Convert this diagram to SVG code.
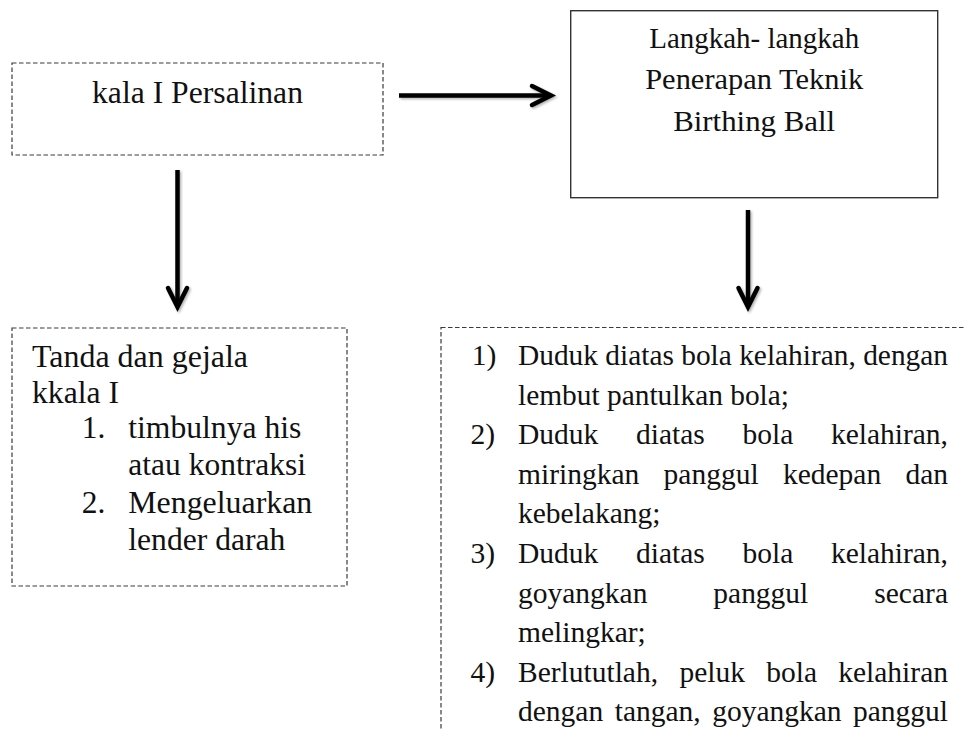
<svg xmlns="http://www.w3.org/2000/svg" width="965" height="731" viewBox="0 0 965 731">
<style>
.t{font-family:"Liberation Serif","Times New Roman",serif;fill:#111}
.l{font-size:31.5px}
.r{font-size:29.5px}
.m{font-size:30px}
.dash{fill:#fff;stroke:#3a3a3a;stroke-width:1.2;stroke-dasharray:4.5 2.5}
.solid{fill:#fff;stroke:#333;stroke-width:1.4}
.conn{stroke:#000;stroke-width:4.5;fill:none}
</style>
<defs>
<filter id="sh" x="-20%" y="-20%" width="140%" height="140%">
<feDropShadow dx="1.5" dy="1.5" stdDeviation="1.2" flood-color="#000" flood-opacity="0.3"/>
</filter>
<marker id="chev" viewBox="0 0 40 30" refX="25" refY="15" markerWidth="40" markerHeight="30" markerUnits="userSpaceOnUse" orient="auto" overflow="visible">
<path d="M6,5.5 L25,15 L6,24.5" fill="none" stroke="#000" stroke-width="4.5" stroke-linecap="round" stroke-linejoin="miter"/>
</marker>
</defs>
<rect width="965" height="731" fill="#fff"/>

<g id="kala1">
<rect class="dash" x="12" y="63" width="371" height="92"/>
<text class="t l" x="197.5" y="103" text-anchor="middle" textLength="211" lengthAdjust="spacingAndGlyphs">kala I Persalinan</text>
</g>

<g id="langkah">
<rect class="solid" x="570.7" y="10.7" width="367" height="187"/>
<g class="t m" text-anchor="middle">
<text x="754.2" y="48" textLength="210" lengthAdjust="spacingAndGlyphs">Langkah- langkah</text>
<text x="754.2" y="89" textLength="218" lengthAdjust="spacingAndGlyphs">Penerapan Teknik</text>
<text x="754.2" y="131" textLength="162" lengthAdjust="spacingAndGlyphs">Birthing Ball</text>
</g>
</g>

<g id="tanda">
<rect class="dash" x="12" y="328" width="335" height="258"/>
<g class="t l">
<text x="32" y="366.7" textLength="216" lengthAdjust="spacingAndGlyphs">Tanda dan gejala</text>
<text x="32" y="402.7" textLength="87" lengthAdjust="spacingAndGlyphs">kkala I</text>
<text x="81.7" y="438" textLength="23.6" lengthAdjust="spacingAndGlyphs">1.</text>
<text x="128.3" y="438" textLength="173" lengthAdjust="spacingAndGlyphs">timbulnya his</text>
<text x="128.3" y="475" textLength="177.6" lengthAdjust="spacingAndGlyphs">atau kontraksi</text>
<text x="81.7" y="512.7" textLength="23.6" lengthAdjust="spacingAndGlyphs">2.</text>
<text x="128.3" y="512.7" textLength="184" lengthAdjust="spacingAndGlyphs">Mengeluarkan</text>
<text x="128.3" y="550" textLength="157" lengthAdjust="spacingAndGlyphs">lender darah</text>
</g>
</g>

<g id="langkah-list">
<rect class="dash" x="441" y="327.5" width="600" height="500"/>
<g class="t r">
<text x="471.7" y="365" textLength="24.6" lengthAdjust="spacingAndGlyphs">1)</text>
<text x="518" y="365" textLength="430" lengthAdjust="spacingAndGlyphs">Duduk diatas bola kelahiran, dengan</text>
<text x="518" y="404.6" textLength="271" lengthAdjust="spacingAndGlyphs">lembut pantulkan bola;</text>

<text x="470.5" y="444.2" textLength="24.6" lengthAdjust="spacingAndGlyphs">2)</text>
<text x="518" y="444.2" textLength="80.3" lengthAdjust="spacingAndGlyphs">Duduk</text>
<text x="636" y="444.2" textLength="68.8" lengthAdjust="spacingAndGlyphs">diatas</text>
<text x="742.5" y="444.2" textLength="50.8" lengthAdjust="spacingAndGlyphs">bola</text>
<text x="830.9" y="444.2" textLength="117.1" lengthAdjust="spacingAndGlyphs">kelahiran,</text>

<text x="518" y="483.8" textLength="121.3" lengthAdjust="spacingAndGlyphs">miringkan</text>
<text x="663.6" y="483.8" textLength="95" lengthAdjust="spacingAndGlyphs">panggul</text>
<text x="782.9" y="483.8" textLength="98.3" lengthAdjust="spacingAndGlyphs">kedepan</text>
<text x="905.4" y="483.8" textLength="42.6" lengthAdjust="spacingAndGlyphs">dan</text>

<text x="518" y="523.4" textLength="142.5" lengthAdjust="spacingAndGlyphs">kebelakang;</text>

<text x="470.5" y="563" textLength="24.6" lengthAdjust="spacingAndGlyphs">3)</text>
<text x="518" y="563" textLength="80.3" lengthAdjust="spacingAndGlyphs">Duduk</text>
<text x="636" y="563" textLength="68.8" lengthAdjust="spacingAndGlyphs">diatas</text>
<text x="742.5" y="563" textLength="50.8" lengthAdjust="spacingAndGlyphs">bola</text>
<text x="830.9" y="563" textLength="117.1" lengthAdjust="spacingAndGlyphs">kelahiran,</text>

<text x="518" y="602.6" textLength="129.4" lengthAdjust="spacingAndGlyphs">goyangkan</text>
<text x="713.3" y="602.6" textLength="95" lengthAdjust="spacingAndGlyphs">panggul</text>
<text x="874.3" y="602.6" textLength="73.7" lengthAdjust="spacingAndGlyphs">secara</text>

<text x="518" y="642.2" textLength="127.8" lengthAdjust="spacingAndGlyphs">melingkar;</text>

<text x="470.5" y="681.8" textLength="24.6" lengthAdjust="spacingAndGlyphs">4)</text>
<text x="518" y="681.8" textLength="140.1" lengthAdjust="spacingAndGlyphs">Berlututlah,</text>
<text x="679.4" y="681.8" textLength="65.5" lengthAdjust="spacingAndGlyphs">peluk</text>
<text x="766.2" y="681.8" textLength="50.8" lengthAdjust="spacingAndGlyphs">bola</text>
<text x="838.2" y="681.8" textLength="109.8" lengthAdjust="spacingAndGlyphs">kelahiran</text>

<text x="518" y="721.4" textLength="85.2" lengthAdjust="spacingAndGlyphs">dengan</text>
<text x="614.7" y="721.4" textLength="86" lengthAdjust="spacingAndGlyphs">tangan,</text>
<text x="712.2" y="721.4" textLength="129.4" lengthAdjust="spacingAndGlyphs">goyangkan</text>
<text x="853" y="721.4" textLength="95" lengthAdjust="spacingAndGlyphs">panggul</text>
</g>
</g>

<g id="connectors" filter="url(#sh)">
<line class="conn" x1="399" y1="95.5" x2="551" y2="95.5" marker-end="url(#chev)"/>
<line class="conn" x1="177.5" y1="170" x2="177.5" y2="307" marker-end="url(#chev)"/>
<line class="conn" x1="748" y1="210" x2="748" y2="307" marker-end="url(#chev)"/>
</g>
</svg>
